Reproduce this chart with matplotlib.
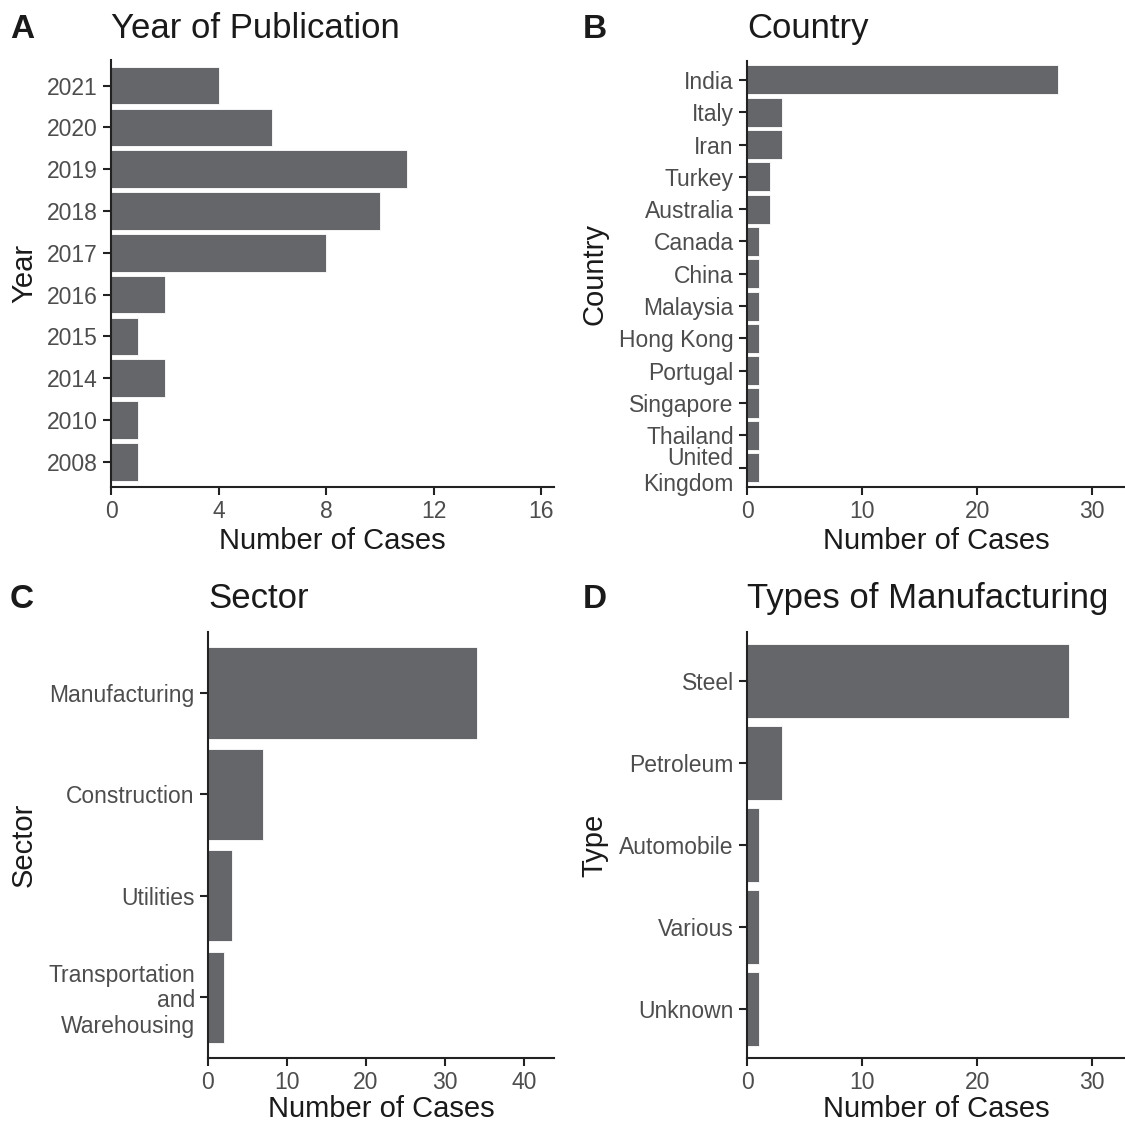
import matplotlib
matplotlib.use('Agg')
import matplotlib.pyplot as plt

# data
years = ['2021', '2020', '2019', '2018', '2017', '2016', '2015', '2014', '2010', '2008']
year_cases = [4, 6, 11, 10, 8, 2, 1, 2, 1, 1]

countries = ['India', 'Italy', 'Iran', 'Turkey', 'Australia', 'Canada', 'China',
             'Malaysia', 'Hong Kong', 'Portugal', 'Singapore', 'Thailand',
             'United\nKingdom']
country_cases = [27, 3, 3, 2, 2, 1, 1, 1, 1, 1, 1, 1, 1]

sectors = ['Manufacturing', 'Construction', 'Utilities', 'Transportation\nand\nWarehousing']
sector_cases = [34, 7, 3, 2]

types = ['Steel', 'Petroleum', 'Automobile', 'Various', 'Unknown']
type_cases = [28, 3, 1, 1, 1]

W, H = 1125, 1124
plt.rcParams['font.family'] = ['Liberation Sans', 'DejaVu Sans']

fig = plt.figure(figsize=(W / 100, H / 100), dpi=100)

BAR = '#656669'
TICK_COL = '#4d4d4d'
TXT = '#1a1a1a'


def px_axes(left, top, right, bottom):
    return fig.add_axes([left / W, 1 - bottom / H, (right - left) / W, (bottom - top) / H])


def panel(rect, labels, values, xmax, xticks, letter, title, ylabel, ylab_x, title_y, xlab_y):
    ax = px_axes(*rect)
    n = len(labels)
    pos = [n - 1 - i for i in range(n)]
    ax.barh(pos, values, height=0.9, color=BAR, edgecolor='white', linewidth=0.6)
    ax.set_ylim(-0.6, n - 1 + 0.6)
    ax.set_xlim(0, xmax)
    ax.set_yticks(pos)
    ax.set_yticklabels(labels, linespacing=1.15)
    ax.set_xticks(xticks)
    for s in ['top', 'right']:
        ax.spines[s].set_visible(False)
    for s in ['left', 'bottom']:
        ax.spines[s].set_linewidth(1.5)
        ax.spines[s].set_color('#222222')
    ax.tick_params(length=5.5, width=1.5, color='#222222', labelsize=16.5,
                   labelcolor=TICK_COL, pad=4)
    left, top, right, bottom = rect
    fig.text(left / W, 1 - title_y / H, title, fontsize=25, color=TXT,
             ha='left', va='baseline')
    lx = 10 if left < 300 else 583
    fig.text(lx / W, 1 - title_y / H, letter, fontsize=24, fontweight='bold',
             color=TXT, ha='left', va='baseline')
    fig.text(ylab_x / W, 1 - (top + bottom) / 2 / H, ylabel, fontsize=21, color=TXT,
             rotation=90, ha='center', va='center')
    fig.text((left + right) / 2 / W, 1 - xlab_y / H, 'Number of Cases', fontsize=21,
             color=TXT, ha='center', va='baseline')
    return ax


panel((111, 60.5, 554, 487), years, year_cases, 16.47, [0, 4, 8, 12, 16],
      'A', 'Year of Publication', 'Year', 24, 38, 549)
panel((747, 60.5, 1125, 487), countries, country_cases, 32.84, [0, 10, 20, 30],
      'B', 'Country', 'Country', 594, 38, 549)
panel((208, 632, 554, 1058), sectors, sector_cases, 43.8, [0, 10, 20, 30, 40],
      'C', 'Sector', 'Sector', 24, 608, 1117)
panel((747, 632, 1125, 1058), types, type_cases, 32.84, [0, 10, 20, 30],
      'D', 'Types of Manufacturing', 'Type', 594, 608, 1117)

plt.savefig('out.png', dpi=100)
